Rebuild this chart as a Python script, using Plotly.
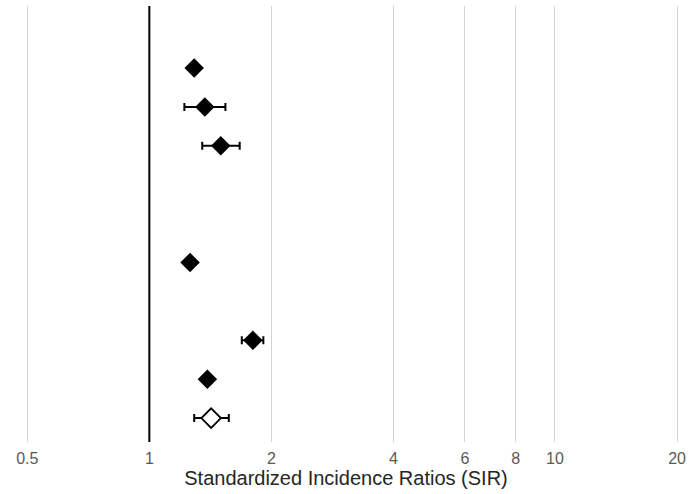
import plotly.graph_objects as go

# Forest plot of standardized incidence ratios with 95% confidence intervals
row_index = [0, 1, 2, 5, 7, 8, 9]
sir = [1.29, 1.37, 1.50, 1.26, 1.80, 1.39, 1.42]
ci_low = [1.26, 1.22, 1.35, 1.23, 1.69, 1.36, 1.29]
ci_high = [1.32, 1.54, 1.67, 1.29, 1.91, 1.42, 1.57]
is_overall = [False, False, False, False, False, False, True]

tick_vals = [0.5, 1, 2, 4, 6, 8, 10, 20]
tick_text = ["0.5", "1", "2", "4", "6", "8", "10", "20"]

fig = go.Figure()

for filled in (True, False):
    idx = [i for i, o in enumerate(is_overall) if o != filled]
    xs = [sir[i] for i in idx]
    ys = [row_index[i] for i in idx]
    fig.add_trace(go.Scatter(
        x=xs, y=ys, mode="markers",
        marker=dict(symbol="diamond", size=15,
                    color="black" if filled else "white",
                    line=dict(color="black", width=0 if filled else 1.8)),
        error_x=dict(type="data", symmetric=False,
                     array=[ci_high[i] - sir[i] for i in idx],
                     arrayminus=[sir[i] - ci_low[i] for i in idx],
                     color="black", thickness=2, width=4),
        showlegend=False,
    ))

# reference line at SIR = 1
fig.add_shape(type="line", xref="x", yref="paper", x0=1, x1=1, y0=0, y1=1,
              line=dict(color="black", width=2), layer="above")

fig.update_layout(
    width=692, height=494,
    margin=dict(l=0, r=0, t=6, b=52),
    paper_bgcolor="white", plot_bgcolor="white",
    font=dict(family="Liberation Sans, Arial, sans-serif"),
    xaxis=dict(type="log", range=[-0.3682, 1.3378],
               tickvals=tick_vals, ticktext=tick_text,
               showgrid=True, gridcolor="#d4d4d4", gridwidth=1,
               zeroline=False, showline=False, ticks="",
               ticklabelstandoff=5,
               tickfont=dict(size=16, color="#595959"),
               title=dict(text="Standardized Incidence Ratios (SIR)",
                          font=dict(size=20, color="#262626"), standoff=1)),
    yaxis=dict(range=[9.614, -1.594], showgrid=False, zeroline=False,
               showticklabels=False, showline=False, ticks=""),
)

fig.write_html("out.html")
